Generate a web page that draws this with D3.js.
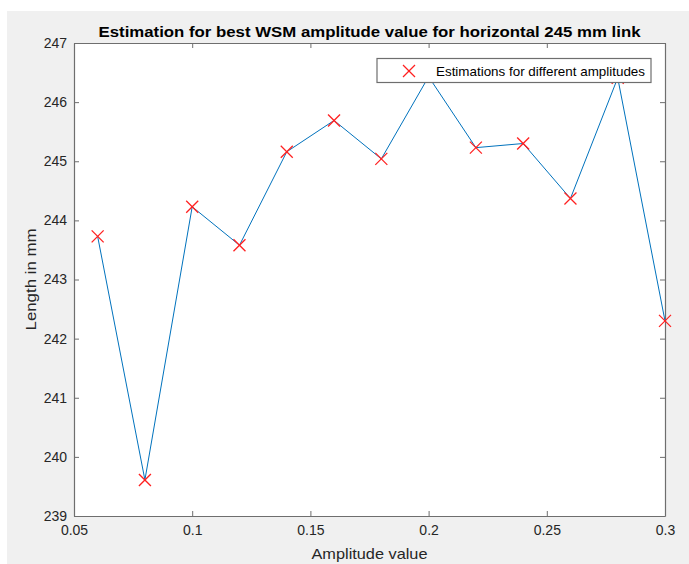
<!DOCTYPE html>
<html>
<head>
<meta charset="utf-8">
<script src="https://cdn.jsdelivr.net/npm/d3@7"></script>
<style>
  body { margin: 0; background: #fff; }
  text { font-family: "Liberation Sans", Arial, Helvetica, sans-serif; }
</style>
</head>
<body>
<div id="chart"></div>
<script>
// data
const amplitudes = [0.06, 0.08, 0.10, 0.12, 0.14, 0.16, 0.18, 0.20, 0.22, 0.24, 0.26, 0.28, 0.30];
const lengths = [243.73, 239.61, 244.23, 243.58, 245.16, 245.69, 245.04, 246.43, 245.23, 245.30, 244.37, 246.41, 242.30];
const xTicks = [0.05, 0.1, 0.15, 0.2, 0.25, 0.3];
const yTicks = [239, 240, 241, 242, 243, 244, 245, 246, 247];
const titleText = "Estimation for best WSM amplitude value for horizontal 245 mm link";
const xLabelText = "Amplitude value";
const yLabelText = "Length in mm";
const legendText = "Estimations for different amplitudes";

const margin = { top: 43, right: 24, bottom: 48, left: 74 },
    width = 689 - margin.left - margin.right,
    height = 564 - margin.top - margin.bottom;

const svg = d3.select("#chart").append("svg")
    .attr("width", 689)
    .attr("height", 564);

// figure background (matlab grey)
svg.append("rect")
    .attr("x", 7).attr("y", 11)
    .attr("width", 689 - 7).attr("height", 564 - 11)
    .attr("fill", "#f0f0f0");

const g = svg.append("g")
    .attr("transform", "translate(" + margin.left + "," + margin.top + ")");

g.append("rect")
    .attr("width", width).attr("height", height)
    .attr("fill", "#fff");

const x = d3.scaleLinear().domain([0.05, 0.3]).range([0, width]);
const y = d3.scaleLinear().domain([239, 247]).range([height, 0]);

const axisColor = "#6e6e6e";
const textColor = "#262626";

function styleAxis(sel) {
    sel.selectAll("path").attr("stroke", axisColor).attr("stroke-width", 1.2);
    sel.selectAll("line").attr("stroke", axisColor);
    sel.selectAll("text").attr("fill", textColor).style("font-size", "14px");
}

g.append("g")
    .attr("transform", "translate(0," + height + ")")
    .call(d3.axisBottom(x).tickValues(xTicks).tickFormat(d3.format("~g"))
        .tickSizeInner(-5).tickSizeOuter(0).tickPadding(9))
    .call(styleAxis);

g.append("g")
    .call(d3.axisTop(x).tickValues(xTicks).tickFormat("")
        .tickSizeInner(-5).tickSizeOuter(0))
    .call(styleAxis);

g.append("g")
    .call(d3.axisLeft(y).tickValues(yTicks).tickFormat(d3.format("d"))
        .tickSizeInner(-5).tickSizeOuter(0).tickPadding(7))
    .call(styleAxis);

g.append("g")
    .attr("transform", "translate(" + width + ",0)")
    .call(d3.axisRight(y).tickValues(yTicks).tickFormat("")
        .tickSizeInner(-5).tickSizeOuter(0))
    .call(styleAxis);

g.selectAll(".domain").attr("fill", "none");

// line
const line = d3.line()
    .x((d, i) => x(amplitudes[i]))
    .y(d => y(d));

g.append("path")
    .datum(lengths)
    .attr("d", line)
    .attr("fill", "none")
    .attr("stroke", "#0072bd")
    .attr("stroke-width", 1);

// x markers
const m = 6;
function cross(sel) {
    sel.append("line").attr("x1", -m).attr("y1", -m).attr("x2", m).attr("y2", m);
    sel.append("line").attr("x1", -m).attr("y1", m).attr("x2", m).attr("y2", -m);
    sel.selectAll("line").attr("stroke", "#ff2020").attr("stroke-width", 1.3);
}

g.selectAll(".marker")
    .data(lengths)
    .enter()
    .append("g")
    .attr("class", "marker")
    .attr("transform", (d, i) => "translate(" + x(amplitudes[i]) + "," + y(d) + ")")
    .each(function () { cross(d3.select(this)); });

// legend
const legend = svg.append("g").attr("transform", "translate(377,58.5)");
legend.append("rect")
    .attr("width", 274).attr("height", 24)
    .attr("fill", "#fff")
    .attr("stroke", axisColor)
    .attr("stroke-width", 1.2);
legend.append("g")
    .attr("transform", "translate(32,12.5)")
    .call(cross);
legend.append("text")
    .attr("x", 59).attr("y", 17)
    .attr("fill", "#000")
    .style("font-size", "13px")
    .attr("textLength", 209)
    .attr("lengthAdjust", "spacingAndGlyphs")
    .text(legendText);

// title and axis labels
svg.append("text")
    .attr("x", margin.left + width / 2).attr("y", 37)
    .attr("text-anchor", "middle")
    .attr("fill", "#000")
    .style("font-size", "15px")
    .style("font-weight", "bold")
    .attr("textLength", 542)
    .attr("lengthAdjust", "spacingAndGlyphs")
    .text(titleText);

svg.append("text")
    .attr("x", margin.left + width / 2).attr("y", 559)
    .attr("text-anchor", "middle")
    .attr("fill", textColor)
    .style("font-size", "15px")
    .attr("textLength", 116)
    .attr("lengthAdjust", "spacingAndGlyphs")
    .text(xLabelText);

svg.append("text")
    .attr("transform", "translate(36," + (margin.top + height / 2) + ") rotate(-90)")
    .attr("text-anchor", "middle")
    .attr("fill", textColor)
    .style("font-size", "15px")
    .attr("textLength", 102)
    .attr("lengthAdjust", "spacingAndGlyphs")
    .text(yLabelText);
</script>
</body>
</html>
